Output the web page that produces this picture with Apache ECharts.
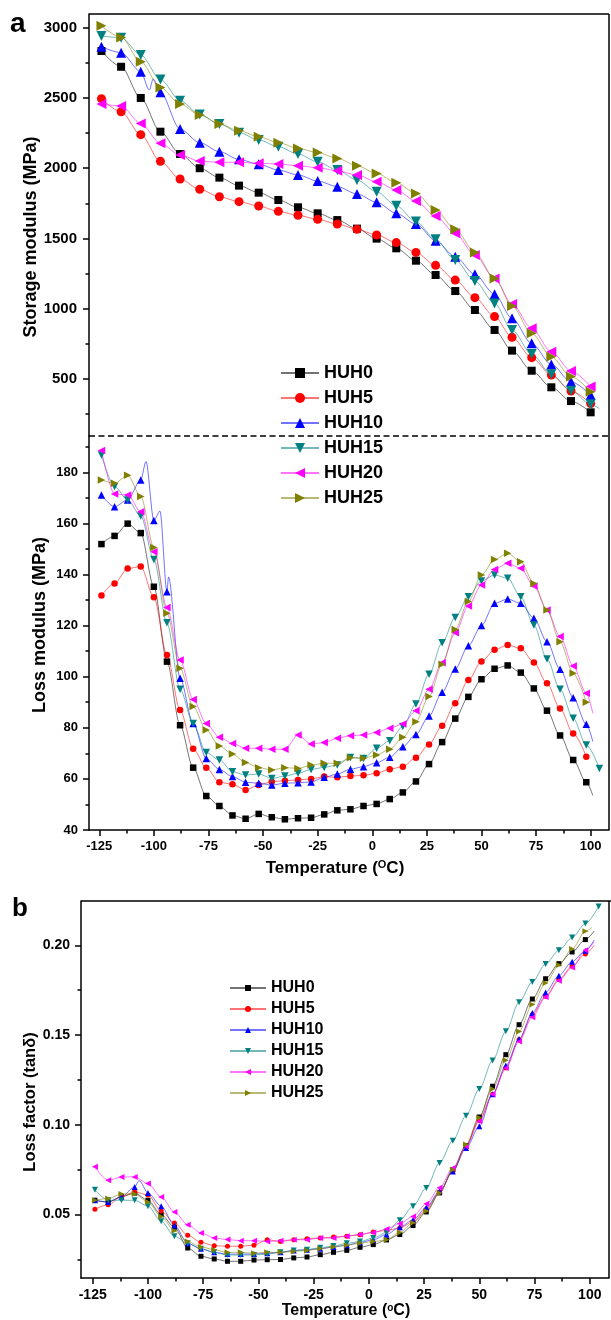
<!DOCTYPE html>
<html>
<head>
<meta charset="utf-8">
<script src="https://cdn.jsdelivr.net/npm/echarts@6/dist/echarts.min.js"></script>
<style>
  html, body { margin: 0; padding: 0; background: #fff; }
  #chart { width: 611px; height: 1320px; }
</style>
</head>
<body>
<div id="chart"></div>
<script>
// ---- Samples ----
const seriesNames = ['HUH0', 'HUH5', 'HUH10', 'HUH15', 'HUH20', 'HUH25'];

// Storage modulus (MPa), symbols every ~9 °C
const tempStorage = [-124, -115, -106, -97, -88, -79, -70, -61, -52, -43, -34, -25, -16, -7, 2, 11, 20, 29, 38, 47, 56, 64, 73, 82, 91, 100];
const storageHUH0  = [2834, 2722, 2500, 2260, 2101, 2000, 1933, 1876, 1826, 1774, 1722, 1679, 1631, 1570, 1499, 1430, 1342, 1240, 1126, 991, 849, 702, 559, 441, 343, 263];
const storageHUH5  = [2495, 2402, 2239, 2049, 1923, 1850, 1797, 1762, 1731, 1693, 1665, 1636, 1603, 1565, 1525, 1471, 1401, 1309, 1204, 1079, 944, 797, 652, 528, 415, 325];
const storageHUH10 = [2865, 2822, 2687, 2540, 2279, 2182, 2118, 2063, 2028, 1987, 1952, 1909, 1869, 1817, 1758, 1679, 1603, 1484, 1370, 1245, 1103, 932, 754, 604, 481, 386];
const storageHUH15 = [2941, 2929, 2806, 2632, 2481, 2383, 2315, 2253, 2201, 2153, 2101, 2046, 1987, 1916, 1833, 1733, 1620, 1494, 1347, 1197, 1038, 849, 678, 533, 417, 320];
const storageHUH20 = [2457, 2443, 2319, 2177, 2094, 2051, 2042, 2042, 2035, 2030, 2018, 2004, 1982, 1952, 1904, 1845, 1767, 1660, 1537, 1382, 1216, 1034, 861, 694, 557, 446];
const storageHUH25 = [3014, 2931, 2758, 2575, 2457, 2379, 2315, 2267, 2224, 2182, 2141, 2111, 2070, 2018, 1963, 1897, 1821, 1702, 1565, 1401, 1216, 1020, 825, 659, 517, 410];
// unmarked trace points [T, value, marked]
const storageExtra = {
  HUH10: [[-102.1, 2557, false], [-100.3, 2635, false]],
  HUH15: [[104, 288, false]]
};

// Loss modulus (MPa), symbols every 6 °C
const tempLoss = [-124, -118, -112, -106, -100, -94, -88, -82, -76, -70, -64, -58, -52, -46, -40, -34, -28, -22, -16, -10, -4, 2, 8, 14, 20, 26, 32, 38, 44, 50, 56, 62, 68, 74, 80, 86, 92, 98];
const lossHUH0  = [151.9, 155.1, 159.9, 156.2, 135.2, 105.9, 81.0, 64.4, 53.3, 49.4, 45.7, 44.4, 46.3, 45.0, 44.2, 44.6, 44.8, 46.1, 47.7, 48.1, 49.4, 50.2, 52.1, 54.7, 59.0, 65.8, 74.4, 83.6, 92.1, 99.0, 103.1, 104.4, 101.6, 95.4, 86.7, 77.0, 67.4, 58.7];
const lossHUH5  = [131.8, 136.5, 142.3, 143.1, 131.1, 108.5, 87.0, 71.8, 64.4, 58.7, 57.9, 55.7, 57.6, 58.9, 59.3, 59.6, 60.0, 60.9, 60.6, 61.1, 61.4, 62.2, 63.8, 64.8, 68.3, 73.5, 80.8, 89.6, 98.7, 105.9, 110.5, 112.4, 111.1, 105.6, 97.4, 87.6, 77.8, 68.7];
const lossHUH10 = [171.1, 166.5, 169.2, 177.0, 161.1, 133.2, 99.4, 81.7, 68.0, 63.7, 60.9, 58.7, 58.3, 57.6, 58.3, 58.5, 58.8, 60.6, 61.9, 63.8, 64.8, 66.3, 68.5, 72.6, 77.4, 84.6, 93.9, 103.0, 112.1, 120.0, 128.7, 130.4, 128.7, 122.9, 113.7, 102.9, 91.8, 81.4];
const lossHUH15 = [186.8, 174.4, 169.2, 162.9, 145.9, 121.1, 95.1, 81.7, 70.3, 67.4, 62.8, 61.5, 61.9, 60.2, 61.1, 62.2, 63.7, 64.5, 65.4, 68.4, 68.0, 72.0, 74.9, 80.5, 89.3, 101.0, 113.3, 123.2, 131.3, 137.5, 139.8, 138.5, 131.3, 120.2, 106.9, 95.1, 83.7, 73.3];
const lossHUH20 = [188.5, 171.5, 171.1, 164.6, 148.9, 127.1, 106.5, 91.1, 81.7, 76.3, 73.9, 72.0, 72.0, 71.6, 71.6, 77.2, 73.7, 74.2, 75.9, 76.9, 77.2, 78.2, 79.8, 81.5, 86.7, 95.1, 105.5, 117.2, 127.7, 135.9, 142.0, 144.4, 142.4, 135.5, 126.1, 115.7, 104.2, 93.5];
const lossHUH25 = [177.0, 175.7, 178.8, 170.5, 150.6, 124.8, 103.3, 88.3, 79.1, 72.9, 69.7, 66.4, 64.4, 63.5, 64.4, 64.1, 65.4, 66.1, 66.1, 68.3, 68.1, 69.4, 71.6, 76.3, 82.4, 92.2, 104.9, 118.5, 129.4, 139.8, 145.9, 148.3, 145.0, 136.5, 126.1, 113.7, 101.3, 90.0];
const lossExtra = {
  HUH0:  [[101, 53.5, false]],
  HUH10: [[-103.6, 184.2, false], [-97.2, 164.8, false], [-93.3, 139.0, false], [101, 74.6, false]],
  HUH15: [[104, 64.1, true]],
  HUH20: [[101, 85.7, false]]
};

// Loss factor (tan δ), symbols every 6 °C
const tempTan = [-124, -118, -112, -106, -100, -94, -88, -82, -76, -70, -64, -58, -52, -46, -40, -34, -28, -22, -16, -10, -4, 2, 8, 14, 20, 26, 32, 38, 44, 50, 56, 62, 68, 74, 80, 86, 92, 98];
const tanHUH0  = [0.058, 0.057, 0.060, 0.062, 0.058, 0.050, 0.043, 0.0314, 0.0268, 0.0253, 0.0240, 0.0240, 0.0247, 0.0249, 0.0250, 0.0259, 0.0264, 0.0277, 0.0290, 0.0301, 0.0318, 0.0333, 0.0359, 0.0389, 0.0439, 0.0515, 0.0621, 0.0750, 0.0884, 0.1044, 0.1215, 0.1391, 0.1558, 0.1701, 0.1814, 0.1898, 0.1963, 0.2032];
const tanHUH5  = [0.053, 0.0555, 0.060, 0.0626, 0.061, 0.052, 0.0454, 0.0385, 0.0346, 0.0327, 0.0324, 0.0324, 0.0330, 0.0360, 0.0350, 0.0360, 0.0366, 0.0370, 0.0375, 0.0380, 0.0388, 0.0403, 0.0412, 0.0425, 0.0460, 0.0530, 0.0625, 0.0741, 0.0885, 0.1025, 0.1170, 0.1317, 0.1475, 0.1614, 0.1716, 0.1810, 0.1883, 0.1952];
const tanHUH10 = [0.058, 0.057, 0.060, 0.0654, 0.0621, 0.0547, 0.044, 0.034, 0.031, 0.029, 0.028, 0.028, 0.028, 0.0285, 0.029, 0.030, 0.0305, 0.031, 0.032, 0.033, 0.0345, 0.036, 0.039, 0.043, 0.047, 0.054, 0.063, 0.074, 0.0871, 0.0992, 0.117, 0.133, 0.1478, 0.1623, 0.1738, 0.1831, 0.1909, 0.197];
const tanHUH15 = [0.0639, 0.058, 0.058, 0.058, 0.0547, 0.0463, 0.038, 0.034, 0.031, 0.029, 0.0275, 0.0275, 0.0275, 0.028, 0.029, 0.030, 0.0305, 0.0315, 0.0325, 0.034, 0.035, 0.037, 0.040, 0.0469, 0.0547, 0.0649, 0.0788, 0.0912, 0.1051, 0.1200, 0.1358, 0.1521, 0.1683, 0.1796, 0.1896, 0.1972, 0.2043, 0.2121];
const tanHUH20 = [0.0766, 0.0691, 0.071, 0.071, 0.0673, 0.0598, 0.0515, 0.0444, 0.0398, 0.037, 0.0361, 0.0355, 0.0355, 0.035, 0.0355, 0.036, 0.036, 0.037, 0.037, 0.038, 0.039, 0.040, 0.042, 0.045, 0.049, 0.056, 0.065, 0.076, 0.088, 0.102, 0.117, 0.1317, 0.1465, 0.160, 0.1712, 0.1803, 0.1877, 0.1972];
const tanHUH25 = [0.058, 0.059, 0.0615, 0.0615, 0.057, 0.049, 0.041, 0.035, 0.032, 0.0305, 0.029, 0.029, 0.0285, 0.029, 0.029, 0.0295, 0.030, 0.031, 0.032, 0.033, 0.034, 0.035, 0.036, 0.040, 0.0455, 0.052, 0.062, 0.075, 0.089, 0.104, 0.120, 0.136, 0.152, 0.167, 0.179, 0.189, 0.198, 0.2078];
const tanExtra = {
  HUH0:  [[102, 0.208, false]],
  HUH5:  [[102, 0.200, false]],
  HUH10: [[-104, 0.069, false], [102, 0.203, false]],
  HUH15: [[104, 0.2217, true]],
  HUH20: [[102, 0.202, false]],
  HUH25: [[101, 0.210, false]]
};

// ---- Tick values ----
const tempMajorTicks = [-125, -100, -75, -50, -25, 0, 25, 50, 75, 100];
const tempMinorTicks = [-112.5, -87.5, -62.5, -37.5, -12.5, 12.5, 37.5, 62.5, 87.5];
const storageMajorTicks = [500, 1000, 1500, 2000, 2500, 3000];
const storageMinorTicks = [250, 750, 1250, 1750, 2250, 2750];
const lossMajorTicks = [40, 60, 80, 100, 120, 140, 160, 180];
const lossMinorTicks = [50, 70, 90, 110, 130, 150, 170, 190];
const tanMajorTicks = [0.05, 0.10, 0.15, 0.20];
const tanMinorTicks = [0.025, 0.075, 0.125, 0.175];

// ---- Styles ----
const FONT = 'Arial, "Liberation Sans", Helvetica, sans-serif';
const colors = ['#000000', '#ff0000', '#0000ff', '#008080', '#ff00ff', '#808000'];
const symbols = ['rect', 'circle', 'triangle', 'triangle', 'triangle', 'triangle'];
const rotations = [0, 0, 0, 180, 90, -90];
const storageSizes = [8, 9, 10, 10, 10, 10];
const lossSizes = [6.5, 6.5, 7.5, 7.5, 7.5, 7.5];
const tanSizes = [5, 5, 6, 6, 6, 6];

function buildData(temps, values, extra) {
  const pts = temps.map((t, i) => ({ value: [t, values[i]] }));
  (extra || []).forEach(e => {
    const p = { value: [e[0], e[1]] };
    if (!e[2]) p.symbol = 'none';
    pts.push(p);
  });
  pts.sort((a, b) => a.value[0] - b.value[0]);
  return pts;
}

const AX = { color: '#000', width: 1.5 };

function tempAxes(gridIndex, min, max, visible, labelSize, margin) {
  return [
    {
      type: 'value', gridIndex, min, max, position: 'bottom', show: visible,
      axisLine: { show: true, onZero: false, lineStyle: AX },
      axisTick: { show: true, inside: false, length: 6, customValues: tempMajorTicks, lineStyle: AX },
      axisLabel: { show: true, customValues: tempMajorTicks, fontSize: labelSize, fontWeight: 'bold', color: '#000', fontFamily: FONT, margin },
      splitLine: { show: false }
    },
    {
      type: 'value', gridIndex, min, max, position: 'bottom', show: visible,
      axisLine: { show: false, onZero: false },
      axisTick: { show: true, inside: false, length: 3.5, customValues: tempMinorTicks, lineStyle: AX },
      axisLabel: { show: false },
      splitLine: { show: false }
    }
  ];
}

function valueAxes(gridIndex, min, max, major, minor, labelSize, margin, fmt) {
  return [
    {
      type: 'value', gridIndex, min, max, position: 'left',
      axisLine: { show: true, onZero: false, lineStyle: AX },
      axisTick: { show: true, inside: false, length: 6, customValues: major, lineStyle: AX },
      axisLabel: { show: true, customValues: major, fontSize: labelSize, fontWeight: 'bold', color: '#000', fontFamily: FONT, margin, formatter: fmt },
      splitLine: { show: false }
    },
    {
      type: 'value', gridIndex, min, max, position: 'left',
      axisLine: { show: false, onZero: false },
      axisTick: { show: true, inside: false, length: 3.5, customValues: minor, lineStyle: AX },
      axisLabel: { show: false },
      splitLine: { show: false }
    }
  ];
}

// Layout (px)
const A_LEFT = 89, A_RIGHT = 609, A_TOP = 14, A_SPLIT = 436, A_BOTTOM = 830;
const B_LEFT = 81, B_RIGHT = 609, B_TOP = 901, B_BOTTOM = 1278;

const xAxis = [].concat(
  tempAxes(0, -129.7, 108.4, false, 13, 9.5),
  tempAxes(1, -129.7, 108.4, true, 13, 9.5),
  tempAxes(2, -130.3, 108.7, true, 14, 10)
);
const yAxis = [].concat(
  valueAxes(0, 94.4, 3097.5, storageMajorTicks, storageMinorTicks, 15, 12, v => String(v)),
  valueAxes(1, 40, 194.2, lossMajorTicks, lossMinorTicks, 13, 11, v => String(v)),
  valueAxes(2, 0.0147, 0.2247, tanMajorTicks, tanMinorTicks, 14, 11, v => v.toFixed(2))
);

const storageSets = [storageHUH0, storageHUH5, storageHUH10, storageHUH15, storageHUH20, storageHUH25];
const lossSets = [lossHUH0, lossHUH5, lossHUH10, lossHUH15, lossHUH20, lossHUH25];
const tanSets = [tanHUH0, tanHUH5, tanHUH10, tanHUH15, tanHUH20, tanHUH25];

function makeSeries(i, temps, values, extra, xIdx, yIdx, size) {
  return {
    type: 'line',
    name: seriesNames[i],
    xAxisIndex: xIdx,
    yAxisIndex: yIdx,
    data: buildData(temps, values, extra[seriesNames[i]]),
    symbol: symbols[i],
    symbolRotate: rotations[i],
    symbolSize: size,
    showSymbol: true,
    smooth: 0.3,
    smoothMonotone: 'x',
    itemStyle: { color: colors[i] },
    lineStyle: { color: colors[i], width: 1, opacity: 0.55 },
    emphasis: { disabled: true },
    animation: false
  };
}

const series = [];
seriesNames.forEach((n, i) => series.push(makeSeries(i, tempStorage, storageSets[i], storageExtra, 0, 0, storageSizes[i])));
seriesNames.forEach((n, i) => series.push(makeSeries(i, tempLoss, lossSets[i], lossExtra, 2, 2, lossSizes[i])));
seriesNames.forEach((n, i) => series.push(makeSeries(i, tempTan, tanSets[i], tanExtra, 4, 4, tanSizes[i])));

const frame = { stroke: '#000', lineWidth: 1.5 };
const titleStyle = (text, size) => ({ text, fontSize: size, fontWeight: 'bold', fontFamily: FONT, fill: '#000', align: 'center', verticalAlign: 'middle' });

const option = {
  backgroundColor: '#fff',
  animation: false,
  grid: [
    { left: A_LEFT, top: A_TOP, width: A_RIGHT - A_LEFT, height: A_SPLIT - A_TOP, containLabel: false, outerBoundsMode: 'none' },
    { left: A_LEFT, top: A_SPLIT, width: A_RIGHT - A_LEFT, height: A_BOTTOM - A_SPLIT, containLabel: false, outerBoundsMode: 'none' },
    { left: B_LEFT, top: B_TOP, width: B_RIGHT - B_LEFT, height: B_BOTTOM - B_TOP, containLabel: false, outerBoundsMode: 'none' }
  ],
  xAxis,
  yAxis,
  legend: [
    {
      data: seriesNames, orient: 'vertical', left: 280, top: 364, padding: 0,
      itemWidth: 38, itemHeight: 12.5, itemGap: 7, selectedMode: false,
      textStyle: { fontSize: 18, fontWeight: 'bold', color: '#000', fontFamily: FONT }
    },
    {
      data: seriesNames, orient: 'vertical', left: 229, top: 980, padding: 0,
      itemWidth: 36, itemHeight: 7.5, itemGap: 5, selectedMode: false,
      textStyle: { fontSize: 16, fontWeight: 'bold', color: '#000', fontFamily: FONT }
    }
  ],
  graphic: [
    // panel a frame: top, right, dashed divider
    { type: 'line', shape: { x1: A_LEFT, y1: A_TOP, x2: A_RIGHT, y2: A_TOP }, style: frame, silent: true },
    { type: 'line', shape: { x1: A_RIGHT, y1: A_TOP, x2: A_RIGHT, y2: A_BOTTOM }, style: frame, silent: true },
    { type: 'line', shape: { x1: A_LEFT, y1: A_SPLIT, x2: A_RIGHT, y2: A_SPLIT }, style: { stroke: '#000', lineWidth: 1.5, lineDash: [6, 3.5] }, silent: true },
    // panel b frame: top, right
    { type: 'line', shape: { x1: B_LEFT, y1: B_TOP, x2: 611, y2: B_TOP }, style: frame, silent: true },
    { type: 'line', shape: { x1: B_RIGHT, y1: B_TOP, x2: B_RIGHT, y2: B_BOTTOM }, style: frame, silent: true },
    // panel letters
    { type: 'text', x: 10, y: 24, style: { text: 'a', fontSize: 28, fontWeight: 'bold', fontFamily: FONT, fill: '#000', align: 'left', verticalAlign: 'middle' } },
    { type: 'text', x: 12, y: 909, style: { text: 'b', fontSize: 26, fontWeight: 'bold', fontFamily: FONT, fill: '#000', align: 'left', verticalAlign: 'middle' } },
    // axis titles
    { type: 'text', x: 31, y: 237, rotation: Math.PI / 2, style: titleStyle('Storage modulus (MPa)', 18) },
    { type: 'text', x: 40, y: 625, rotation: Math.PI / 2, style: titleStyle('Loss modulus (MPa)', 18) },
    { type: 'text', x: 30, y: 1102, rotation: Math.PI / 2, style: titleStyle('Loss factor (tanδ)', 16.5) },
    {
      type: 'text', x: 335, y: 868,
      style: Object.assign(titleStyle('Temperature ({sup|O}C)', 17), {
        rich: { sup: { fontSize: 11, fontWeight: 'bold', fontFamily: FONT, fill: '#000', verticalAlign: 'top', padding: [0, 0, 6, 0] } }
      })
    },
    {
      type: 'text', x: 346, y: 1311,
      style: Object.assign(titleStyle('Temperature ({sup|o}C)', 16), {
        rich: { sup: { fontSize: 10, fontWeight: 'bold', fontFamily: FONT, fill: '#000', verticalAlign: 'top', padding: [0, 0, 6, 0] } }
      })
    }
  ],
  series
};

const chart = echarts.init(document.getElementById('chart'), null, { renderer: 'canvas' });
chart.setOption(option);
</script>
</body>
</html>
